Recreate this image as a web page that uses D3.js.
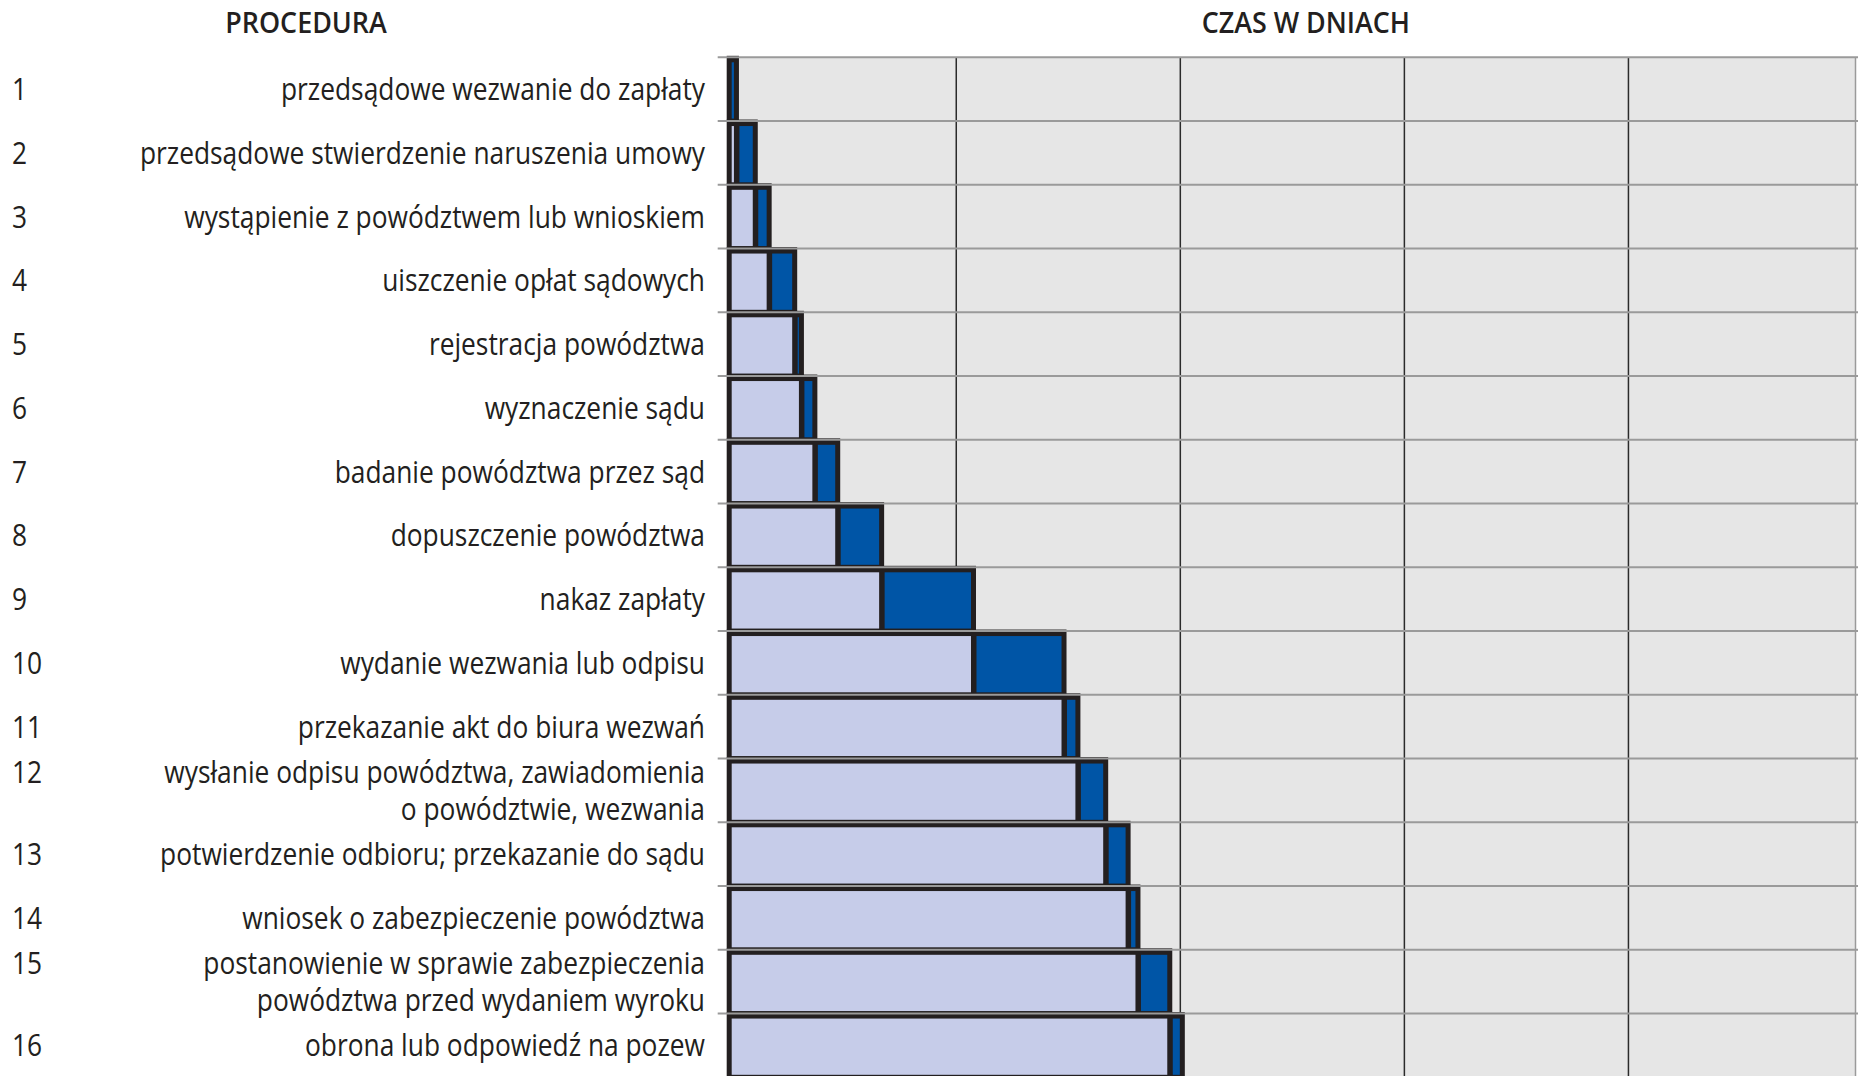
<!DOCTYPE html>
<html lang="pl">
<head>
<meta charset="UTF-8">
<title>Procedura - czas w dniach</title>
<script src="https://d3js.org/d3.v7.min.js"></script>
<style>
  html, body { margin: 0; padding: 0; background: #fff; overflow: hidden; }
  svg { display: block; }
  text { font-family: "Open Sans", "Noto Sans", sans-serif; fill: #231f20; }
</style>
</head>
<body>
<script>
// procedure numbers and names ("\n" = line break in the label)
var stepNo = [1, 2, 3, 4, 5, 6, 7, 8, 9, 10, 11, 12, 13, 14, 15, 16];
var stepName = [
  "przedsądowe wezwanie do zapłaty",
  "przedsądowe stwierdzenie naruszenia umowy",
  "wystąpienie z powództwem lub wnioskiem",
  "uiszczenie opłat sądowych",
  "rejestracja powództwa",
  "wyznaczenie sądu",
  "badanie powództwa przez sąd",
  "dopuszczenie powództwa",
  "nakaz zapłaty",
  "wydanie wezwania lub odpisu",
  "przekazanie akt do biura wezwań",
  "wysłanie odpisu powództwa, zawiadomienia\no powództwie, wezwania",
  "potwierdzenie odbioru; przekazanie do sądu",
  "wniosek o zabezpieczenie powództwa",
  "postanowienie w sprawie zabezpieczenia\npowództwa przed wydaniem wyroku",
  "obrona lub odpowiedź na pozew"
];
// how long each step takes, in days (estimated from the bars)
var stepDays = [0.5, 4.2, 3.1, 5.7, 1.5, 3.0, 5.1, 9.8, 20.5, 20.2, 3.1, 6.2, 5.0, 2.2, 7.1, 2.8];

// vertical grid lines (days) and the end of the time axis
var dayTicks = [50, 100, 150, 200];
var dayMax = 250;

var headers = ["PROCEDURA", "CZAS W DNIACH"];

// each step starts where the previous one ended
var stepEnd = Array.from(d3.cumsum(stepDays));
var rows = stepNo.map(function(n, i) {
  return {no: n, name: stepName[i], start: stepEnd[i] - stepDays[i], end: stepEnd[i]};
});

var width = 1858, height = 1076;
var margin = {top: 57.3, right: 6, left: 731.7};
var rowStep = 63.75;
var squeeze = 0.85; // narrow the font a bit, the original uses a condensed face

var svg = d3.select("body").append("svg")
  .attr("width", width)
  .attr("height", height);

var x = d3.scaleLinear()
  .domain([0, dayMax])
  .range([margin.left, width - margin.right]);

var y = d3.scaleBand()
  .domain(stepNo)
  .range([margin.top, margin.top + rowStep * stepNo.length])
  .padding(0);

var bw = y.bandwidth();

// plot background
svg.append("rect")
  .attr("x", x(0))
  .attr("y", margin.top)
  .attr("width", width - 2 - x(0))
  .attr("height", height - margin.top)
  .attr("fill", "#e6e6e6");

// vertical grid
var grid = svg.append("g")
  .attr("transform", "translate(0," + margin.top + ")")
  .call(d3.axisBottom(x).tickValues(dayTicks).tickSize(height - margin.top).tickFormat(""));
grid.select(".domain").remove();
grid.selectAll(".tick line")
  .attr("stroke", "#2b2b2b")
  .attr("stroke-width", 1.5);

// right border
svg.append("line")
  .attr("x1", width - 2.5).attr("x2", width - 2.5)
  .attr("y1", margin.top).attr("y2", height)
  .attr("stroke", "#9a9a9a")
  .attr("stroke-width", 1.5);

// bars: black frame, light part = time already elapsed, blue part = this step
var bar = svg.selectAll(".bar")
  .data(rows)
  .enter()
  .append("g")
  .attr("class", "bar");

bar.append("rect")
  .attr("x", x(0) - 5)
  .attr("y", function(d) { return y(d.no) - 1.5; })
  .attr("width", function(d) { return x(d.end) + 5 - (x(0) - 5); })
  .attr("height", bw + 1.5)
  .attr("fill", "#231f20");

bar.filter(function(d) { return d.start > 0; })
  .append("rect")
  .attr("x", x(0))
  .attr("y", function(d) { return y(d.no) + 5; })
  .attr("width", function(d) { return x(d.start) - x(0); })
  .attr("height", bw - 7.5)
  .attr("fill", "#c6cce9");

bar.append("rect")
  .attr("x", function(d) { return d.start > 0 ? x(d.start) + 5.5 : x(0); })
  .attr("y", function(d) { return y(d.no) + 5; })
  .attr("width", function(d) {
    var x0 = d.start > 0 ? x(d.start) + 5.5 : x(0);
    return Math.max(0, x(d.end) - x0);
  })
  .attr("height", bw - 7.5)
  .attr("fill", "#0055a6");

// horizontal row lines, drawn over the bars
svg.selectAll(".rowline")
  .data(rows)
  .enter()
  .append("line")
  .attr("class", "rowline")
  .attr("x1", x(0) - 14)
  .attr("x2", width)
  .attr("y1", function(d) { return y(d.no); })
  .attr("y2", function(d) { return y(d.no); })
  .attr("stroke", "#9a9a9a")
  .attr("stroke-width", 2);

// row labels
var label = svg.selectAll(".label")
  .data(rows)
  .enter()
  .append("g")
  .attr("class", "label");

var lineGap = 37;

function firstLineY(d) {
  var n = d.name.split("\n").length;
  return y(d.no) + bw / 2 + 11 - (n - 1) / 2 * lineGap;
}

label.append("text")
  .attr("transform", function(d) { return "translate(12," + firstLineY(d) + ") scale(" + squeeze + ",1)"; })
  .style("font-size", "31px")
  .text(function(d) { return d.no; });

// one text per label, wrapped lines as tspans
label.append("text")
  .attr("transform", function(d) { return "translate(705," + firstLineY(d) + ") scale(" + squeeze + ",1)"; })
  .attr("text-anchor", "end")
  .style("font-size", "31px")
  .each(function(d) {
    var t = d3.select(this);
    d.name.split("\n").forEach(function(line, i) {
      t.append("tspan")
        .attr("x", 0)
        .attr("y", i * lineGap)
        .text(line);
    });
  });

// column headers
svg.append("text")
  .attr("transform", "translate(306,33.3) scale(0.96,1)")
  .attr("text-anchor", "middle")
  .style("font-size", "28px")
  .style("font-weight", 600)
  .text(headers[0]);

svg.append("text")
  .attr("transform", "translate(" + (x(dayMax / 2) + 14) + ",33.3) scale(0.96,1)")
  .attr("text-anchor", "middle")
  .style("font-size", "28px")
  .style("font-weight", 600)
  .text(headers[1]);
</script>
</body>
</html>
